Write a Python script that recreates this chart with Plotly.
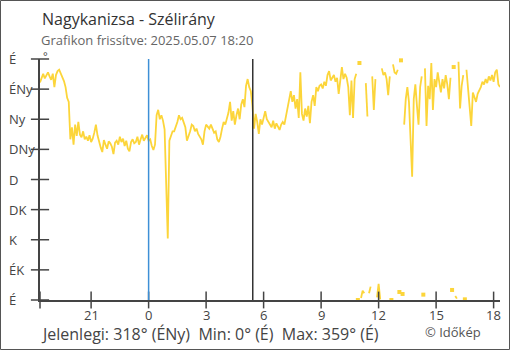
import plotly.graph_objects as go
from datetime import datetime, timedelta

# ---------------- data ----------------
start_time = "2025-05-06 18:20"
end_time = "2025-05-07 18:20"
step_minutes = 5

# wind direction in degrees, one row per hour (5-minute samples)
direction = [
    325, 333, 338, 331, 336, 340, 334, 329, 338, 318, 336, 342,
    344, 339, 332, 327, 318, 302, 296, 240, 258, 232, 262, 245,
    266, 247, 243, 252, 240, 244, 238, 246, 236, 241, 250, 262,
    246, 236, 228, 221, 239, 232, 226, 237, 234, 229, 218, 235,
    238, 232, 244, 236, 241, 230, 238, 226, 222, 236, 240, 234,
    236, 244, 232, 240, 247, 238, 242, 246, 238, 240, 230, 224,
    232, 276, 284, 270, 276, 268, 255, 170, 92, 238, 246, 252,
    252, 258, 266, 276, 270, 272, 264, 258, 238, 244, 252, 262,
    260, 252, 256, 248, 244, 240, 232, 252, 262, 258, 256, 262,
    256, 250, 252, 240, 236, 244, 256, 266, 262, 272, 280, 296,
    268, 282, 262, 276, 286, 270, 292, 300, 288, 320, 330, 318,
    312, 290, 256, 278, 266, 248, 270, 262, 274, 282, 270, 266,
    262, 258, 268, 256, 264, 260, 254, 262, 266, 262, 276, 286,
    300, 312, 296, 306, 286, 300, 272, 340, 278, 268, 286, 274,
    290, 264, 296, 306, 290, 318, 312, 320, 322, 316, 326, 320,
    336, 342, 328, 332, 336, 326, 332, 308, 334, 348, 330, 338,
    332, 318, 276, 328, 272, 330, 338, 0, 354, 3, 14, 10,
    324, 274, 10, 20, 334, 284, 330, 4, 24, 1, 346, 336,
    340, 330, 306, 334, 0, 352, 340, 338, 344, 12, 358, 9,
    262, 300, 318, 296, 240, 184, 300, 322, 290, 262, 318, 334,
    8, 346, 260, 320, 300, 354, 284, 330, 318, 340, 326, 310,
    330, 316, 336, 322, 300, 332, 15, 348, 6, 2, 356, 286,
    320, 336, 1, 344, 318, 296, 260, 310, 304, 296, 308, 312,
    318, 326, 322, 330, 324, 334, 328, 336, 326, 340, 344, 322,
    318,
]

x_tick_times = ["2025-05-06 21:00", "2025-05-07 00:00", "2025-05-07 03:00",
                "2025-05-07 06:00", "2025-05-07 09:00", "2025-05-07 12:00",
                "2025-05-07 15:00", "2025-05-07 18:00"]
x_tick_labels = ["21", "0", "3", "6", "9", "12", "15", "18"]

y_tick_values = [0, 45, 90, 135, 180, 225, 270, 315, 360]
y_tick_labels = ["É", "ÉK", "K", "DK", "D", "DNy", "Ny", "ÉNy", "É"]

midnight_time = "2025-05-07 00:00"
sunrise_time = "2025-05-07 05:26"

title_text = "Nagykanizsa - Szélirány"
subtitle_text = "Grafikon frissítve: 2025.05.07 18:20"
footer_text = "Jelenlegi: 318° (ÉNy)\u00a0\u00a0Min: 0° (É)\u00a0\u00a0Max: 359° (É)"
credit_text = "© Időkép"

# ---------------- build segments (break line where direction wraps) ----------------
t0 = datetime.strptime(start_time, "%Y-%m-%d %H:%M")
times = [t0 + timedelta(minutes=step_minutes * i) for i in range(len(direction))]

seg_x, seg_y = [], []
connected_prev = [False] * len(direction)
connected_next = [False] * len(direction)
for i, (t, v) in enumerate(zip(times, direction)):
    if i > 0:
        if abs(v - direction[i - 1]) > 180:
            seg_x.append(None)
            seg_y.append(None)
        else:
            connected_prev[i] = True
            connected_next[i - 1] = True
    seg_x.append(t)
    seg_y.append(v)

iso_x = [t for i, t in enumerate(times) if not connected_prev[i] and not connected_next[i]]
iso_y = [v for i, v in enumerate(direction) if not connected_prev[i] and not connected_next[i]]

LINE_COLOR = "#FCD53A"
AX_COLOR = "#444444"
FONT = "Open Sans"

W, H = 510, 350
ML, MR, MT, MB = 40, 10, 59, 50
pw, ph = W - ML - MR, H - MT - MB


def px(xp):
    return (xp - ML) / pw


def py(yp):
    return (H - MB - yp) / ph


fig = go.Figure()
fig.add_trace(go.Scatter(x=seg_x, y=seg_y, mode="lines",
                         line=dict(color=LINE_COLOR, width=1.8),
                         connectgaps=False, cliponaxis=False,
                         hoverinfo="skip", showlegend=False))
fig.add_trace(go.Scatter(x=iso_x, y=iso_y, mode="markers",
                         marker=dict(color=LINE_COLOR, size=4, symbol="square",
                                     line=dict(width=0)),
                         cliponaxis=False, hoverinfo="skip", showlegend=False))

# crossing tick marks on both axes (plus the axis-start tick)
x_mark_times = [start_time] + x_tick_times
fig.add_trace(go.Scatter(x=x_mark_times, y=[0] * len(x_mark_times), mode="markers",
                         marker=dict(symbol="line-ns", size=12,
                                     line=dict(color=AX_COLOR, width=1.5)),
                         cliponaxis=False, hoverinfo="skip", showlegend=False))
fig.add_trace(go.Scatter(x=[start_time] * len(y_tick_values), y=y_tick_values,
                         mode="markers",
                         marker=dict(symbol="line-ew", size=13,
                                     line=dict(color=AX_COLOR, width=1.5)),
                         cliponaxis=False, hoverinfo="skip", showlegend=False))

x_range = [start_time, end_time]

fig.update_layout(
    width=W, height=H, autosize=False,
    margin=dict(l=ML, r=MR, t=MT, b=MB, pad=0),
    paper_bgcolor="white", plot_bgcolor="white",
    font=dict(family=FONT, color=AX_COLOR),
    showlegend=False,
    xaxis=dict(type="date", range=x_range, showticklabels=False, ticks="",
               showline=True, linecolor=AX_COLOR, linewidth=1.5,
               showgrid=False, zeroline=False, fixedrange=True),
    yaxis=dict(range=[0, 360], showticklabels=False, ticks="",
               showline=True, linecolor=AX_COLOR, linewidth=1.5,
               showgrid=False, zeroline=False, fixedrange=True),
)

# vertical markers: midnight (blue) and sunrise (dark)
fig.add_shape(type="line", xref="x", yref="paper", x0=midnight_time,
              x1=midnight_time, y0=0, y1=1,
              line=dict(color="#3D8FD6", width=1.5), layer="above")
fig.add_shape(type="line", xref="x", yref="paper", x0=sunrise_time,
              x1=sunrise_time, y0=0, y1=1,
              line=dict(color="#333333", width=1.5), layer="above")

# outer frame
fig.add_shape(type="rect", xref="paper", yref="paper",
              x0=px(0.5), x1=px(W - 0.5), y0=py(H - 0.5), y1=py(0.5),
              line=dict(color="#555555", width=1), fillcolor="rgba(0,0,0,0)")

# x tick labels
for t, lab in zip(x_tick_times, x_tick_labels):
    fig.add_annotation(x=t, xref="x", y=py(315), yref="paper", text=lab,
                       showarrow=False, xanchor="center", yanchor="middle",
                       font=dict(size=13, color=AX_COLOR, family=FONT))

# y tick labels (left aligned)
for v, lab in zip(y_tick_values, y_tick_labels):
    fig.add_annotation(x=px(7), xref="paper", y=v, yref="y", text=lab,
                       showarrow=False, xanchor="left", yanchor="middle",
                       font=dict(size=13, color=AX_COLOR, family=FONT))

# unit mark
fig.add_annotation(x=px(42), xref="paper", y=py(55.5), yref="paper", text="°",
                   showarrow=False, xanchor="left", yanchor="middle",
                   borderpad=0,
                   font=dict(size=11, color=AX_COLOR, family=FONT))

fig.add_annotation(x=px(40), xref="paper", y=py(19), yref="paper",
                   text=title_text, showarrow=False, xanchor="left",
                   yanchor="middle", font=dict(size=16, color="#333333", family=FONT))
fig.add_annotation(x=px(40), xref="paper", y=py(40), yref="paper",
                   text=subtitle_text, showarrow=False, xanchor="left",
                   yanchor="middle", borderpad=0,
                   font=dict(size=13, color="#666666", family=FONT))
fig.add_annotation(x=px(39), xref="paper", y=py(334), yref="paper",
                   text=footer_text, showarrow=False, xanchor="left",
                   yanchor="middle", font=dict(size=16, color=AX_COLOR, family=FONT))
fig.add_annotation(x=px(483), xref="paper", y=py(332), yref="paper",
                   text=credit_text, showarrow=False, xanchor="right",
                   yanchor="middle", font=dict(size=13, color="#555555", family=FONT))

fig.write_html("out.html", config={"displayModeBar": False})
